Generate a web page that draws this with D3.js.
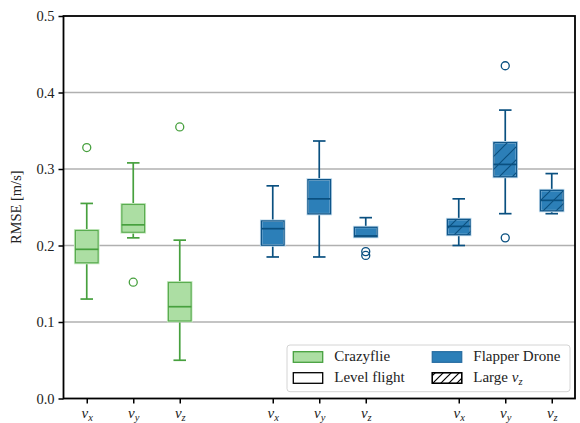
<!DOCTYPE html>
<html>
<head>
<meta charset="utf-8">
<script src="https://cdn.jsdelivr.net/npm/d3@7/dist/d3.min.js"></script>
<style>
  html, body { margin: 0; padding: 0; background: #fff; }
</style>
</head>
<body>
<svg id="chart" width="580" height="423"></svg>
<script>
// ---- data ----
const categories = ["x", "y", "z"];           // subscripts of v
const groupNames = ["Crazyflie", "Level flight", "Large v_z"];
const yTicks = [0.0, 0.1, 0.2, 0.3, 0.4, 0.5];
// five-number stats: [whiskerLow, Q1, median, Q3, whiskerHigh]
const crazyflieStats = [
  [0.130, 0.177, 0.195, 0.220, 0.255],
  [0.210, 0.217, 0.227, 0.254, 0.308],
  [0.050, 0.101, 0.120, 0.152, 0.207]
];
const crazyflieOutliers = [[0.328], [0.152], [0.355]];
const levelStats = [
  [0.185, 0.200, 0.222, 0.2325, 0.278],
  [0.185, 0.241, 0.261, 0.2865, 0.3366],
  [0.211, 0.211, 0.2125, 0.2242, 0.2364]
];
const levelOutliers = [[], [], [0.192, 0.187]];
const largeStats = [
  [0.200, 0.2137, 0.225, 0.2346, 0.261],
  [0.2416, 0.2895, 0.306, 0.335, 0.377],
  [0.2416, 0.245, 0.259, 0.2725, 0.294]
];
const largeOutliers = [[], [0.210, 0.435], []];

// ---- styles ----
const FONT = "'Liberation Serif'";
const green = { face: "#acdea3", edge: "#47a03e", halo: "#cdebc7", boxEdge: "#5aad50" };
const blue  = { face: "#2c7fb8", edge: "#0a5080", halo: "#c4ddee", boxEdge: "#0f568a" };
const groups = [
  { stats: crazyflieStats, outliers: crazyflieOutliers, col: green, hatch: false },
  { stats: levelStats, outliers: levelOutliers, col: blue, hatch: false },
  { stats: largeStats, outliers: largeOutliers, col: blue, hatch: true }
];

const svg = d3.select("#chart").attr("font-family", FONT);
const L = 63.5, R = 575, T = 16, B = 398.5;

const x = d3.scaleLinear().domain([-0.5, 10.5]).range([L, R]);
const y = d3.scaleLinear().domain([0, 0.5]).range([B, T]);

const defs = svg.append("defs");
function hatchPattern(id, size, color, sw) {
  const p = defs.append("pattern").attr("id", id)
    .attr("patternUnits", "userSpaceOnUse").attr("width", size).attr("height", size);
  p.append("path")
    .attr("d", `M0,${size} L${size},0 M${-size/2},${size/2} L${size/2},${-size/2} M${size/2},${size*1.5} L${size*1.5},${size/2}`)
    .attr("stroke", color).attr("stroke-width", sw).attr("fill", "none");
}
hatchPattern("hatchBox", 13, blue.edge, 1.2);
hatchPattern("hatchLeg", 8, "#000", 1.2);

// grid
svg.append("g").selectAll("line").data(yTicks.filter(d => d > 0 && d < 0.5)).join("line")
  .attr("x1", L).attr("x2", R).attr("y1", d => y(d)).attr("y2", d => y(d))
  .attr("stroke", "#b0b0b0").attr("stroke-width", 1.5);

// boxes
const boxW = 0.5, capW = 0.27;
const pw = x(1) - x(0);
groups.forEach((g, gi) => {
  g.stats.forEach((s, ci) => {
    const pos = gi * 4 + ci;
    const cx = x(pos);
    const [lo, q1, med, q3, hi] = s;
    const G = svg.append("g");
    const sw = 1.7;
    G.append("line").attr("x1", cx).attr("x2", cx).attr("y1", y(q3)).attr("y2", y(hi)).attr("stroke", g.col.edge).attr("stroke-width", sw);
    G.append("line").attr("x1", cx).attr("x2", cx).attr("y1", y(q1)).attr("y2", y(lo)).attr("stroke", g.col.edge).attr("stroke-width", sw);
    [lo, hi].forEach(v => {
      G.append("line").attr("x1", cx - capW * pw / 2).attr("x2", cx + capW * pw / 2)
        .attr("y1", y(v)).attr("y2", y(v)).attr("stroke", g.col.edge).attr("stroke-width", sw);
    });
    const bx = cx - boxW * pw / 2, bw = boxW * pw, by = y(q3), bh = y(q1) - y(q3);
    G.append("rect").attr("x", bx).attr("y", by).attr("width", bw).attr("height", bh)
      .attr("fill", g.col.face).attr("stroke", g.col.halo).attr("stroke-width", 2.4);
    if (g.hatch) {
      G.append("rect").attr("x", bx).attr("y", by).attr("width", bw).attr("height", bh)
        .attr("fill", "url(#hatchBox)");
    }
    G.append("rect").attr("x", bx + 0.3).attr("y", by + 0.3).attr("width", bw - 0.6).attr("height", Math.max(0, bh - 0.6))
      .attr("fill", "none").attr("stroke", g.col.boxEdge).attr("stroke-width", 1.3);
    G.append("line").attr("x1", bx).attr("x2", bx + bw).attr("y1", y(med)).attr("y2", y(med))
      .attr("stroke", g.col.edge).attr("stroke-width", sw);
    G.selectAll("circle").data(g.outliers[ci]).join("circle")
      .attr("cx", cx).attr("cy", d => y(d)).attr("r", 4)
      .attr("fill", "none").attr("stroke", g.col.edge).attr("stroke-width", 1.3);
  });
});

// axes
const yAxis = d3.axisLeft(y).tickValues(yTicks).tickFormat(d3.format(".1f")).tickSize(5).tickPadding(4);
const yg = svg.append("g").attr("transform", `translate(${L},0)`).call(yAxis);
yg.attr("font-family", FONT).attr("font-size", 14.5);
yg.select(".domain").remove();
yg.selectAll(".tick line").attr("stroke", "#000").attr("stroke-width", 1.5);
yg.selectAll(".tick text").attr("font-family", FONT).attr("font-size", 14.5).attr("fill", "#222");

const xPositions = [];
groups.forEach((g, gi) => categories.forEach((c, ci) => xPositions.push({ pos: gi * 4 + ci, sub: c })));
const xAxis = d3.axisBottom(x).tickValues(xPositions.map(d => d.pos)).tickSize(5).tickFormat("");
const xg = svg.append("g").attr("transform", `translate(0,${B})`).call(xAxis);
xg.attr("font-family", FONT).attr("font-size", 14.5);
xg.select(".domain").remove();
xg.selectAll(".tick line").attr("stroke", "#000").attr("stroke-width", 1.5);
xg.selectAll(".tick text").remove();
xg.selectAll(".tick").data(xPositions).each(function(d) {
  const t = d3.select(this).append("text").attr("y", 19.5).attr("text-anchor", "middle")
    .attr("font-family", FONT).attr("font-size", 15).attr("font-style", "italic").attr("fill", "#222");
  t.append("tspan").text("v");
  t.append("tspan").attr("dy", 3).attr("font-size", 10.5).text(d.sub);
});

// spines
svg.append("rect").attr("x", L).attr("y", T).attr("width", R - L).attr("height", B - T)
  .attr("fill", "none").attr("stroke", "#000").attr("stroke-width", 1.8);

// y label
svg.append("text").attr("transform", `translate(21,${(T + B) / 2}) rotate(-90)`)
  .attr("text-anchor", "middle").attr("font-family", FONT).attr("font-size", 14.5).attr("fill", "#222").text("RMSE [m/s]");

// legend
const leg = svg.append("g");
leg.append("rect").attr("x", 287).attr("y", 345).attr("width", 283).attr("height", 46.7)
  .attr("rx", 3).attr("fill", "#fff").attr("fill-opacity", 0.85).attr("stroke", "#d4d4d4").attr("stroke-width", 1);
const legItems = [
  { label: "Crazyflie", col: 0, row: 0, fill: green.face, stroke: green.edge, hatch: false },
  { label: "Level flight", col: 0, row: 1, fill: "#fff", stroke: "#000", hatch: false },
  { label: "Flapper Drone", col: 1, row: 0, fill: blue.face, stroke: "#2a6fa3", hatch: false },
  { label: "Large ", col: 1, row: 1, fill: "#fff", stroke: "#000", hatch: true, sub: "z" }
];
const colX = [293.3, 432.3], rowY = [351.7, 372.7];
legItems.forEach(it => {
  const px = colX[it.col], py = rowY[it.row];
  leg.append("rect").attr("x", px).attr("y", py).attr("width", 29.4).attr("height", 10.6)
    .attr("fill", it.fill).attr("stroke", it.stroke).attr("stroke-width", 1.3);
  if (it.hatch) {
    leg.append("rect").attr("x", px).attr("y", py).attr("width", 29.4).attr("height", 10.6)
      .attr("fill", "url(#hatchLeg)").attr("stroke", "#000").attr("stroke-width", 1.3);
  }
  const t = leg.append("text").attr("x", px + 41).attr("y", py + 9.5)
    .attr("font-family", FONT).attr("font-size", 15).attr("fill", "#222");
  t.append("tspan").text(it.label);
  if (it.sub) {
    t.append("tspan").attr("font-style", "italic").text("v");
    t.append("tspan").attr("dy", 3).attr("font-style", "italic").attr("font-size", 10.5).text(it.sub);
  }
});
</script>
</body>
</html>
